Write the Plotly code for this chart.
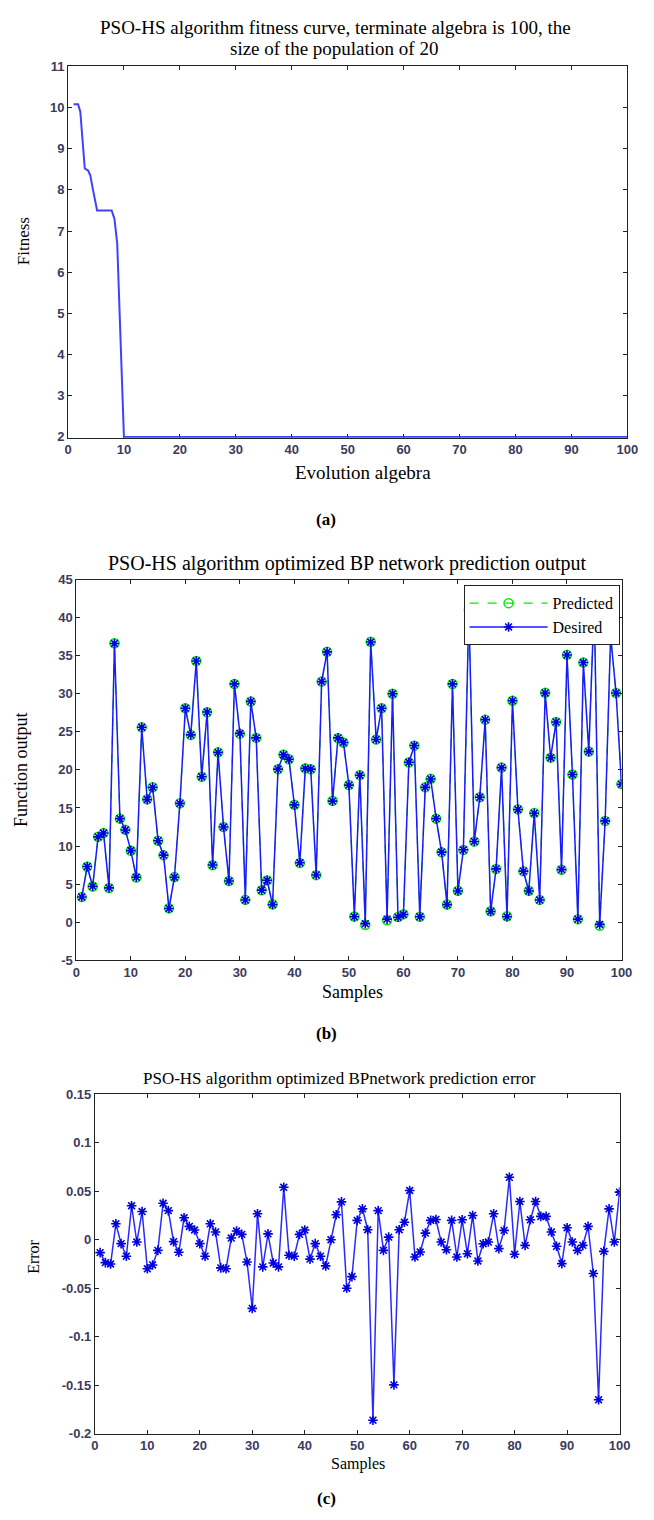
import plotly.graph_objects as go

W, H = 654, 1520

# ---------------- data ----------------
# (a) fitness curve
fit_gen = [1, 1.8, 2.2, 2.5, 3.0, 3.6, 4.0, 4.4, 4.9, 5.2, 7.8, 8.3, 8.8, 9.0, 9.4, 9.6, 10.0, 100]
fit_val = [10.08, 10.08, 9.9, 9.3, 8.52, 8.47, 8.35, 8.05, 7.65, 7.5, 7.5, 7.3, 6.7, 5.9, 4.8, 3.6, 2.0, 2.0]

# (b) desired output, samples 1..100
samples = list(range(1, 101))
desired = [
    3.3, 7.3, 4.7, 11.2, 11.7, 4.5, 36.6, 13.6, 12.1, 9.4,
    5.9, 25.6, 16.1, 17.7, 10.7, 8.8, 1.8, 5.9, 15.6, 28.1,
    24.6, 34.3, 19.1, 27.6, 7.5, 22.3, 12.5, 5.4, 31.3, 24.8,
    2.9, 29.0, 24.2, 4.2, 5.5, 2.3, 20.1, 22.0, 21.4, 15.4,
    7.8, 20.2, 20.1, 6.2, 31.6, 35.5, 15.9, 24.2, 23.6, 18.0,
    0.7, 19.3, -0.2, 36.8, 24.0, 28.1, 0.4, 30.0, 0.65, 1.0,
    21.0, 23.2, 0.7, 17.7, 18.8, 13.6, 9.2, 2.3, 31.3, 4.1,
    9.5, 41.0, 10.6, 16.4, 26.6, 1.4, 7.0, 20.3, 0.7, 29.1,
    14.8, 6.7, 4.1, 14.3, 2.9, 30.1, 21.6, 26.3, 6.9, 35.1,
    19.4, 0.4, 34.1, 22.4, 42.0, -0.3, 13.3, 37.6, 30.1, 18.1,
]

# (c) prediction error, samples 1..100
error = [
    -0.0133, -0.0236, -0.025, 0.0164, -0.004, -0.017, 0.035, -0.0024, 0.029, -0.030,
    -0.026, -0.011, 0.0376, 0.030, -0.002, -0.013, 0.0226, 0.0137, 0.010, -0.004,
    -0.017, 0.0164, 0.0079, -0.029, -0.030, 0.0017, 0.0089, 0.0055, -0.023, -0.0708,
    0.0267, -0.028, 0.006, -0.024, -0.028, 0.054, -0.016, -0.017, 0.0055, 0.010,
    -0.020, -0.004, -0.017, -0.027, 0.0, 0.0257, 0.039, -0.050, -0.038, 0.0199,
    0.0318, 0.0103, -0.186, 0.030, -0.011, 0.0027, -0.1496, 0.0103, 0.018, 0.0507,
    -0.0178, -0.0127, 0.0068, 0.0199, 0.0209, -0.0024, -0.0103, 0.0199, -0.0178, 0.0205,
    -0.0144, 0.025, -0.0219, -0.0041, -0.0024, 0.0267, -0.0092, 0.0096, 0.0643, -0.015,
    0.0394, -0.0058, 0.0205, 0.0394, 0.024, 0.024, 0.0079, -0.0068, -0.0246, 0.0123,
    -0.0024, -0.011, -0.0058, 0.0137, -0.0349, -0.165, -0.012, 0.0318, -0.0024, 0.049,
]
# predicted = desired + error (MATLAB: error = predicted - desired)
predicted = [d + e for d, e in zip(desired, error)]

# tick labels
a_xticks = list(range(0, 101, 10))
a_yticks = list(range(2, 12))
b_yticks = list(range(-5, 46, 5))
b_yticklabels = [str(v) for v in b_yticks]
c_yticks = [0.15, 0.1, 0.05, 0, -0.05, -0.1, -0.15, -0.2]
c_yticklabels = ["0.15", "0.1", "0.05", "0", "-0.05", "-0.1", "-0.15", "-0.2"]

# ---------------- helpers ----------------
def px_x(p):
    return p / W

def px_y(p):
    return 1 - p / H

SERIF = "Liberation Serif"
TICKFONT = dict(family="Liberation Sans", size=13, color="#3b3b5e", weight="bold")

def axis_common():
    return dict(
        showline=True, linecolor="#222222", linewidth=1, mirror="ticks",
        ticks="inside", ticklen=4, tickcolor="#222222", tickwidth=1,
        showgrid=False, zeroline=False, tickfont=TICKFONT,
    )

fig = go.Figure()

# (a)
fig.add_trace(go.Scatter(
    x=fit_gen, y=fit_val, mode="lines",
    line=dict(color="#4040ff", width=2),
    xaxis="x", yaxis="y", showlegend=False,
))

# (b)
fig.add_trace(go.Scatter(
    x=samples, y=predicted, mode="lines+markers", name="Predicted",
    line=dict(color="#00ee00", width=1.2, dash="dash"),
    marker=dict(symbol="circle-open", size=9, color="#00ee00", line=dict(width=1.5)),
    xaxis="x2", yaxis="y2",
))
fig.add_trace(go.Scatter(
    x=samples, y=desired, mode="lines+markers", name="Desired",
    line=dict(color="#1a1aff", width=1.5),
    marker=dict(symbol="asterisk-open", size=8, color="#0000dd", line=dict(width=1.6, color="#0000dd")),
    xaxis="x2", yaxis="y2",
))

# (c)
fig.add_trace(go.Scatter(
    x=samples, y=error, mode="lines+markers",
    line=dict(color="#2a2aff", width=1.5),
    marker=dict(symbol="asterisk-open", size=8, color="#0000dd", line=dict(width=1.6, color="#0000dd")),
    xaxis="x3", yaxis="y3", showlegend=False,
))

layout = dict(
    width=W, height=H,
    margin=dict(l=0, r=0, t=0, b=0),
    paper_bgcolor="white", plot_bgcolor="white",
    showlegend=True,
    legend=dict(
        x=px_x(630), y=px_y(584), xanchor="right", yanchor="top",
        bgcolor="white", bordercolor="#222222", borderwidth=1,
        font=dict(family=SERIF, size=16, color="black"),
        itemwidth=78, tracegroupgap=0,
    ),
)

# axes (a)
layout["xaxis"] = dict(axis_common(), domain=[px_x(65.5), px_x(638)], range=[0, 100],
                       tickvals=a_xticks, anchor="y", layer="below traces")
layout["yaxis"] = dict(axis_common(), domain=[px_y(435), px_y(60)], range=[1.98, 11],
                       tickvals=a_yticks, anchor="x", layer="below traces")

# axes (b)
layout["xaxis2"] = dict(axis_common(), domain=[px_x(74), px_x(632)], range=[0, 100],
                        tickvals=a_xticks, anchor="y2")
layout["yaxis2"] = dict(axis_common(), domain=[px_y(962.7), px_y(578.3)], range=[-5, 45],
                        tickvals=b_yticks, ticktext=b_yticklabels, anchor="x2")

# axes (c)
layout["xaxis3"] = dict(axis_common(), domain=[px_x(93), px_x(630)], range=[0, 100],
                        tickvals=a_xticks, anchor="y3")
layout["yaxis3"] = dict(axis_common(), domain=[px_y(1441), px_y(1098)], range=[-0.2, 0.15],
                        tickvals=c_yticks, ticktext=c_yticklabels, anchor="x3")

def note(text, x, y, size, angle=0, bold=False):
    return dict(
        text=text, x=px_x(x), y=px_y(y), xref="paper", yref="paper",
        xanchor="center", yanchor="middle", showarrow=False, textangle=angle,
        font=dict(family=SERIF, size=size, color="black", weight="bold" if bold else "normal"),
    )

layout["annotations"] = [
    note("PSO-HS algorithm fitness curve, terminate algebra is 100, the", 339, 21, 19),
    note("size of the population of 20", 338, 42, 19),
    note("Fitness", 20, 237, 17, angle=-90),
    note("Evolution algebra", 367, 470, 19),
    note("(a)", 330, 518, 17, bold=True),
    note("PSO-HS algorithm optimized BP network prediction output", 352, 562, 20),
    note("Function output", 18, 770, 18, angle=-90),
    note("Samples", 357, 995, 18),
    note("(b)", 330, 1037, 17, bold=True),
    note("PSO-HS algorithm optimized BPnetwork prediction error", 343, 1082, 17),
    note("Error", 30, 1262, 16, angle=-90),
    note("Samples", 362, 1472, 16),
    note("(c)", 330, 1506, 17, bold=True),
]

fig.update_layout(**layout)
fig.write_html("out.html")
